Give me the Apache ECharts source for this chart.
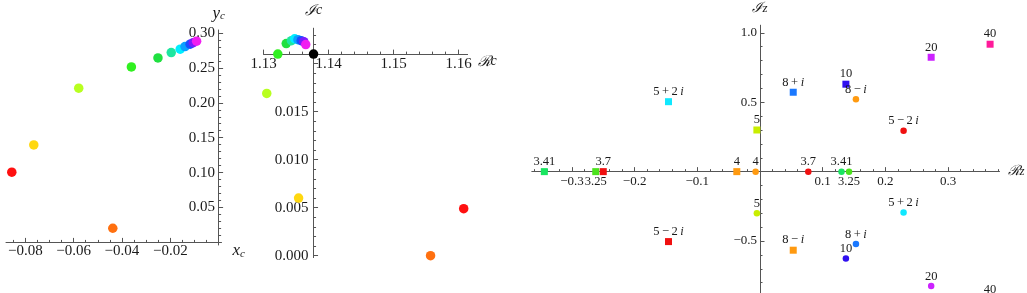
<!DOCTYPE html>
<html><head><meta charset="utf-8">
<script src="https://cdn.jsdelivr.net/npm/echarts@6/dist/echarts.min.js"></script>
<style>html,body{margin:0;padding:0;background:#fff}#c{width:1027px;height:293px}</style>
</head><body><div id="c"></div>
<script>
// ---------- Panel 1 : (x_c , y_c) ----------
const p1X = [-0.0856, -0.0438, -0.0765, -0.0579, -0.0361, -0.0251, -0.0196, -0.0159, -0.0139, -0.0118, -0.0105, -0.0091];
const p1Y = [0.1006, 0.0203, 0.1397, 0.2210, 0.2514, 0.2643, 0.2720, 0.2768, 0.2805, 0.2840, 0.2862, 0.2883];
// ---------- Panel 2 : (Re c , Im c) ----------
const p2X = [1.1608, 1.1557, 1.1354, 1.1305, 1.1322, 1.1335, 1.1343, 1.1348, 1.1353, 1.1358, 1.1362, 1.1365];
const p2Y = [0.0049, 0.0000, 0.0060, 0.0169, 0.0210, 0.0221, 0.0224, 0.0226, 0.0225, 0.0224, 0.0223, 0.0220];
const p2Origin = [1.1377, 0.0210];
const hueColors = ['#ff1010', '#ff7010', '#ffd810', '#b8ff20', '#30f020', '#20e040', '#1ee6a0', '#00eeff', '#0aa0ff', '#1650ff', '#7a1aff', '#f01ef0'];
// ---------- Panel 3 : z plane ----------
const zLabels = ['3.25', '3.41', '3.7', '4', '5', '5 + 2 i', '5 − 2 i', '8 + i', '8 − i', '10', '20', '40'];
const zColors = ['#4be21c', '#18e660', '#f01010', '#ff9a10', '#c8ee00', '#10e8ff', '#f01010', '#1a78ff', '#ff9a10', '#3010f0', '#cc22ff', '#ff1a9a'];
const sqRe = [-0.262, -0.344, -0.250, -0.037, -0.005, -0.146, -0.146, 0.053, 0.053, 0.137, 0.273, 0.367];
const sqIm = [0, 0, 0, 0, 0.300, 0.504, -0.504, 0.572, -0.566, 0.630, 0.824, 0.918];
const ciRe = [0.142, 0.130, 0.077, -0.007, -0.005, 0.229, 0.229, 0.153, 0.153, 0.137, 0.273, 0.367];
const ciIm = [0, 0, 0, 0, -0.300, -0.294, 0.294, -0.522, 0.522, -0.625, -0.824, -0.918];
const labelsBelow = ['3.25'];
// ---------- tick labels ----------
const p1XTicks = [-0.08, -0.06, -0.04, -0.02];
const p1YTicks = [0.05, 0.10, 0.15, 0.20, 0.25, 0.30];
const p2XTicks = [1.13, 1.14, 1.15, 1.16];
const p2YTicks = [0.000, 0.005, 0.010, 0.015];
const p3XTicks = [-0.3, -0.2, -0.1, 0.1, 0.2, 0.3];
const p3YTicks = [-1.0, -0.5, 0.5, 1.0];

// ---------- layout ----------
const G = [
  {left: 6, top: 30, width: 215.5, height: 215, x: [-0.088, 0.0012], y: [-0.0037, 0.3043], cross: [0, 0]},
  {left: 263.5, top: 28.2, width: 204.1, height: 229.4, x: [1.13, 1.1614], y: [-0.0002, 0.0237], cross: [1.1377, 0.021]},
  {left: 531.8, top: 25.2, width: 467.7, height: 278.3, x: [-0.364, 0.382], y: [-0.95, 1.055], cross: [0, 0]}
];
const SERIF = "'Liberation Serif','Times New Roman','DejaVu Serif',serif";
const LINE = '#555';
const TXT = '#1a1a1a';

function frange(a, b, step) {
  const out = []; const n = Math.round((b - a) / step);
  for (let k = 0; k <= n; k++) out.push(+(a + k * step).toFixed(6));
  return out;
}
const minus = v => (v < 0 ? '\u2212' : '');
const fmtN = d => v => minus(v) + Math.abs(v).toFixed(d);

function axisPair(dim, gi, spec) {
  const g = G[gi];
  const isX = dim === 'x';
  const rng = isX ? g.x : g.y;
  let offset;
  if (isX) {
    const py = g.top + (g.y[1] - g.cross[1]) / (g.y[1] - g.y[0]) * g.height;
    offset = py - (g.top + g.height);
  } else {
    const px = g.left + (g.cross[0] - g.x[0]) / (g.x[1] - g.x[0]) * g.width;
    offset = g.left - px;
  }
  const base = {type: 'value', gridIndex: gi, min: rng[0], max: rng[1], position: isX ? 'bottom' : 'left',
    offset: offset, splitLine: {show: false}, scale: true};
  const major = Object.assign({}, base, {
    axisLine: {show: true, onZero: false, lineStyle: {color: LINE, width: 1}},
    axisTick: {show: true, inside: true, length: 4.5, customValues: spec.ticks, lineStyle: {color: LINE, width: 1}},
    axisLabel: {show: true, customValues: spec.labels, formatter: spec.fmt, margin: spec.margin,
      fontFamily: SERIF, fontSize: spec.fontSize, color: TXT},
    name: spec.name, nameLocation: 'end', nameGap: spec.nameGap, nameTextStyle: spec.nameStyle
  });
  const minor = Object.assign({}, base, {
    axisLine: {show: false, onZero: false},
    axisTick: {show: true, inside: true, length: 2.5, customValues: spec.minor, lineStyle: {color: LINE, width: 1}},
    axisLabel: {show: false}
  });
  return [major, minor];
}
function nameRich(size, subSize, sub) {
  return {
    rich: {
      v: {fontFamily: SERIF, fontStyle: 'italic', fontSize: size, color: TXT},
      s: Object.assign({fontFamily: SERIF, fontStyle: 'italic', fontSize: subSize, color: TXT}, sub ? {verticalAlign: 'bottom'} : {})
    }
  };
}

const xAxes = [].concat(
  axisPair('x', 0, {ticks: p1XTicks.concat([0]), labels: p1XTicks, minor: frange(-0.085, 0, 0.005), fmt: fmtN(2), margin: 1, fontSize: 15,
    name: '{v|x}{s|c}', nameGap: 11, nameStyle: Object.assign(nameRich(17, 11, true), {verticalAlign: 'top', align: 'left'})}),
  axisPair('x', 1, {ticks: p2XTicks, labels: p2XTicks, minor: frange(1.13, 1.16, 0.002), fmt: fmtN(2), margin: 2, fontSize: 15,
    name: '{v|ℛ}{s|c}', nameGap: 9, nameStyle: Object.assign(nameRich(15, 14, false), {verticalAlign: 'top', align: 'left'})}),
  axisPair('x', 2, {ticks: p3XTicks, labels: p3XTicks, minor: frange(-0.36, 0.38, 0.02), fmt: fmtN(1), margin: 3, fontSize: 13,
    name: '{v|ℛ}{s|z}', nameGap: 8, nameStyle: Object.assign(nameRich(14, 13, false), {verticalAlign: 'middle', align: 'left'})})
);
const yAxes = [].concat(
  axisPair('y', 0, {ticks: p1YTicks, labels: p1YTicks, minor: frange(0, 0.30, 0.01), fmt: fmtN(2), margin: 3.5, fontSize: 15,
    name: '{v|y}{s|c}', nameGap: 8, nameStyle: nameRich(17, 11, true)}),
  axisPair('y', 1, {ticks: p2YTicks.concat([0.02]), labels: p2YTicks, minor: frange(0, 0.023, 0.001), fmt: fmtN(3), margin: 5, fontSize: 15,
    name: '{v|ℐ}{s|c}', nameGap: 10, nameStyle: nameRich(15, 14, false)}),
  axisPair('y', 2, {ticks: p3YTicks, labels: p3YTicks, minor: frange(-0.9, 1.0, 0.1), fmt: fmtN(1), margin: 3, fontSize: 13,
    name: '{v|ℐ}{s|z}', nameGap: 10, nameStyle: nameRich(14, 13, false)})
);

function zText(s) {
  return s.replace(/ /g, '\u2009').replace(/i/g, '{it|i}');
}
function zData(re, im) {
  return re.map((r, k) => ({
    value: [r, im[k]], name: zLabels[k],
    itemStyle: {color: zColors[k]},
    label: {position: labelsBelow.indexOf(zLabels[k]) >= 0 ? 'bottom' : 'top'}
  }));
}
const zLabel = {
  show: true, distance: 0, formatter: p => zText(p.name), fontFamily: SERIF, fontSize: 12.5, color: TXT,
  rich: {it: {fontFamily: SERIF, fontStyle: 'italic', fontSize: 12.5, color: TXT}}
};

const option = {
  animation: false,
  backgroundColor: '#fff',
  grid: G.map(g => ({left: g.left, top: g.top, width: g.width, height: g.height, containLabel: false, outerBoundsMode: 'none', show: false})),
  xAxis: xAxes,
  yAxis: yAxes,
  series: [
    {type: 'scatter', xAxisIndex: 0, yAxisIndex: 0, symbolSize: 9.5, clip: false,
      data: p1X.map((x, k) => [x, p1Y[k]]), itemStyle: {color: p => hueColors[p.dataIndex], opacity: 1}},
    {type: 'scatter', xAxisIndex: 2, yAxisIndex: 2, symbolSize: 9.5, clip: false,
      data: p2X.map((x, k) => [x, p2Y[k]]), itemStyle: {color: p => hueColors[p.dataIndex], opacity: 1}},
    {type: 'scatter', xAxisIndex: 2, yAxisIndex: 2, symbolSize: 9.5, clip: false,
      data: [p2Origin], itemStyle: {color: '#000', opacity: 1}},
    {type: 'scatter', xAxisIndex: 4, yAxisIndex: 4, symbol: 'rect', symbolSize: 7, clip: false,
      data: zData(sqRe, sqIm), label: zLabel, itemStyle: {opacity: 1}},
    {type: 'scatter', xAxisIndex: 4, yAxisIndex: 4, symbol: 'circle', symbolSize: 6.5, clip: false,
      data: zData(ciRe, ciIm), label: zLabel, itemStyle: {opacity: 1}}
  ]
};
const chart = echarts.init(document.getElementById('c'), null, {renderer: 'canvas'});
chart.setOption(option);
</script>
</body></html>
